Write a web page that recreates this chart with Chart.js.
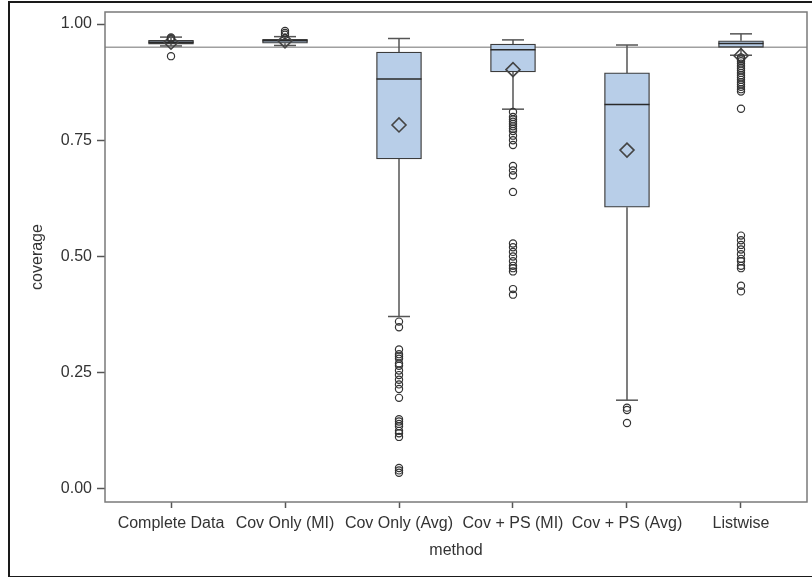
<!DOCTYPE html>
<html>
<head>
<meta charset="utf-8">
<script src="https://cdn.jsdelivr.net/npm/chart.js@4.4.1/dist/chart.umd.min.js"></script>
<style>
  html, body { margin: 0; padding: 0; background: #fff; overflow: hidden; }
  #frame { position: absolute; left: 8px; top: 1px; width: 900px; height: 573px; border: 2px solid #1a1a1a; }
  #chart { position: absolute; left: 0; top: 0; }
</style>
</head>
<body>
<div id="frame"></div>
<canvas id="chart" width="812" height="577"></canvas>
<script>
// categories and box statistics
const categories = ['Complete Data', 'Cov Only (MI)', 'Cov Only (Avg)', 'Cov + PS (MI)', 'Cov + PS (Avg)', 'Listwise']
const whiskerLow = [0.953, 0.954, 0.371, 0.817, 0.191, 0.933]
const q1 = [0.957, 0.959, 0.710, 0.897, 0.606, 0.950]
const median = [0.961, 0.964, 0.882, 0.945, 0.827, 0.958]
const q3 = [0.965, 0.967, 0.940, 0.957, 0.895, 0.964]
const whiskerHigh = [0.972, 0.973, 0.969, 0.966, 0.955, 0.979]
const means = [0.961, 0.964, 0.783, 0.902, 0.729, 0.932]

// outliers per method
const outCompleteData = [0.931, 0.969, 0.971]
const outCovOnlyMI = [0.977, 0.981, 0.985]
const outCovOnlyAvg = [0.360, 0.348, 0.300, 0.290, 0.285, 0.280, 0.270, 0.265, 0.255, 0.245, 0.235, 0.225, 0.215,
  0.196, 0.150, 0.145, 0.140, 0.135, 0.125, 0.120, 0.112, 0.045, 0.040, 0.035]
const outCovPsMI = [0.811, 0.800, 0.795, 0.790, 0.785, 0.780, 0.775, 0.770, 0.760, 0.750, 0.740, 0.695, 0.685, 0.675,
  0.639, 0.528, 0.520, 0.510, 0.500, 0.490, 0.480, 0.475, 0.468, 0.430, 0.418]
const outCovPsAvg = [0.175, 0.170, 0.142]
const outListwise = [0.928, 0.924, 0.920, 0.915, 0.910, 0.905, 0.900, 0.895, 0.890, 0.885, 0.880, 0.875, 0.870, 0.865,
  0.860, 0.855, 0.818, 0.545, 0.535, 0.525, 0.515, 0.505, 0.495, 0.490, 0.480, 0.475, 0.437, 0.425]
const outliers = [outCompleteData, outCovOnlyMI, outCovOnlyAvg, outCovPsMI, outCovPsAvg, outListwise]

const refValue = 0.95
const yTicks = [0, 0.25, 0.5, 0.75, 1]

const textColor = '#333'
const font = { family: "'Liberation Sans', Arial, sans-serif", size: 16 }

// build whisker segments with gaps between them
const whiskerPoints = []
categories.forEach((c, i) => {
  whiskerPoints.push({ x: i, y: whiskerLow[i] }, { x: i, y: q1[i] }, { x: i, y: null })
  whiskerPoints.push({ x: i, y: q3[i] }, { x: i, y: whiskerHigh[i] }, { x: i, y: null })
})

const capPoints = []
categories.forEach((c, i) => {
  capPoints.push({ x: i, y: whiskerLow[i] }, { x: i, y: whiskerHigh[i] })
})

const outlierPoints = []
outliers.forEach((list, i) => list.forEach((v) => outlierPoints.push({ x: i, y: v })))

// frame around the plot area
const plotFrame = {
  id: 'plotFrame',
  afterDraw(chart) {
    const { ctx, chartArea: a } = chart
    ctx.save()
    ctx.strokeStyle = '#7a7a7a'
    ctx.lineWidth = 1.5
    ctx.strokeRect(a.left, a.top, a.right - a.left, a.bottom - a.top)
    ctx.restore()
  }
}

new Chart(document.getElementById('chart'), {
  data: {
    datasets: [
      {
        type: 'line',
        order: 7,
        data: [{ x: -1, y: refValue }, { x: 6, y: refValue }],
        borderColor: '#a0a0a0',
        borderWidth: 1.5,
        pointRadius: 0,
      },
      {
        type: 'line',
        order: 6,
        data: whiskerPoints,
        spanGaps: false,
        borderColor: '#555',
        borderWidth: 1.5,
        pointRadius: 0,
      },
      {
        type: 'bar',
        order: 5,
        data: categories.map((c, i) => ({ x: i, y: [q1[i], q3[i]] })),
        backgroundColor: '#b8cee8',
        borderColor: '#3c3c3c',
        borderWidth: 1.3,
        borderSkipped: false,
        barThickness: 45,
        grouped: false,
      },
      {
        type: 'scatter',
        order: 4,
        data: categories.map((c, i) => ({ x: i, y: median[i] })),
        pointStyle: 'line',
        pointRadius: 22.5,
        borderColor: '#2a2a2a',
        borderWidth: 1.5,
      },
      {
        type: 'scatter',
        order: 4,
        data: capPoints,
        pointStyle: 'line',
        pointRadius: 11,
        borderColor: '#555',
        borderWidth: 1.5,
      },
      {
        type: 'scatter',
        order: 3,
        data: categories.map((c, i) => ({ x: i, y: means[i] })),
        pointStyle: 'rectRot',
        pointRadius: 7,
        backgroundColor: 'rgba(0,0,0,0)',
        borderColor: '#444',
        borderWidth: 1.6,
      },
      {
        type: 'scatter',
        order: 2,
        data: outlierPoints,
        pointStyle: 'circle',
        pointRadius: 3.6,
        backgroundColor: 'rgba(0,0,0,0)',
        borderColor: '#333',
        borderWidth: 1.2,
      },
    ]
  },
  options: {
    responsive: false,
    animation: false,
    layout: { autoPadding: false, padding: { left: 0, top: 12, right: 5, bottom: 0 } },
    plugins: { legend: { display: false }, tooltip: { enabled: false } },
    scales: {
      x: {
        type: 'linear',
        offset: false,
        min: -0.579,
        max: 5.579,
        afterBuildTicks: (scale) => { scale.ticks = categories.map((c, i) => ({ value: i })) },
        afterFit: (scale) => {
          scale.height = 75
          scale.paddingLeft = 0
          scale.paddingRight = 0
        },
        ticks: {
          autoSkip: false,
          maxRotation: 0,
          padding: 6,
          color: textColor,
          font: font,
          callback: (v) => categories[v],
        },
        grid: { offset: false, drawOnChartArea: false, tickLength: 6, tickColor: '#555', tickWidth: 1.5 },
        border: { display: false },
        title: { display: true, text: 'method', color: textColor, font: font, padding: { top: 0, bottom: 17 } },
      },
      y: {
        min: -0.028,
        max: 1.026,
        afterBuildTicks: (scale) => { scale.ticks = yTicks.map((v) => ({ value: v })) },
        afterFit: (scale) => {
          scale.width = 105
          scale.paddingTop = 0
          scale.paddingBottom = 0
        },
        ticks: {
          padding: 5,
          color: textColor,
          font: font,
          callback: (v) => v.toFixed(2),
        },
        grid: { drawOnChartArea: false, tickLength: 8, tickColor: '#555', tickWidth: 1.5 },
        border: { display: false },
        title: { display: true, text: 'coverage', color: textColor, font: font, padding: { top: 28, bottom: 0 } },
      },
    },
  },
  plugins: [plotFrame],
})
</script>
</body>
</html>
